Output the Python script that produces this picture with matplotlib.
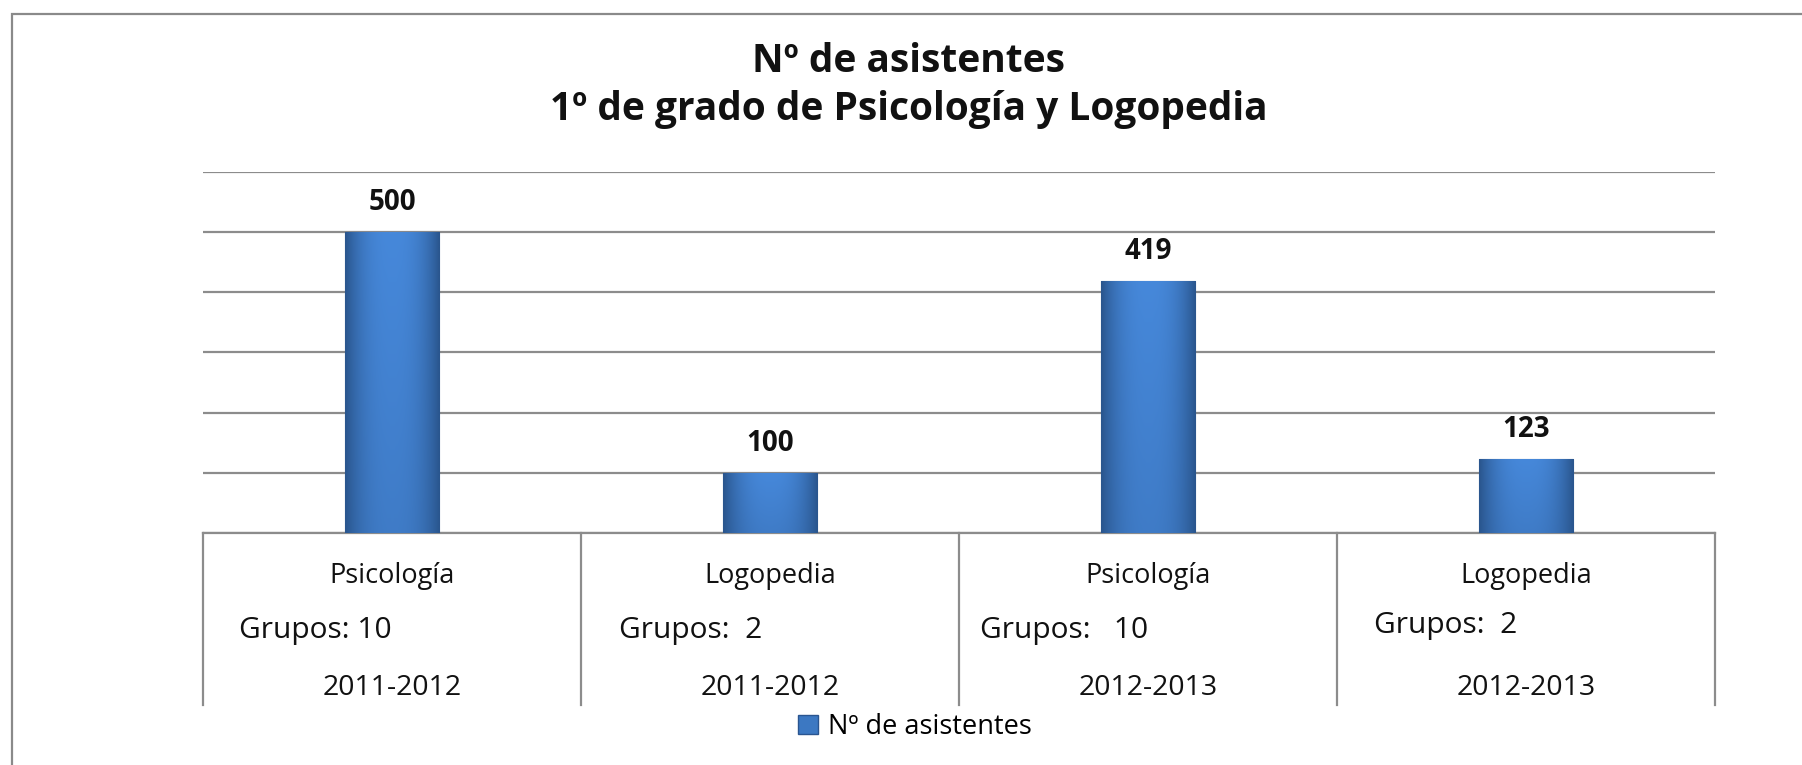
import matplotlib.pyplot as plt
import matplotlib.patches as mpatches
import matplotlib.transforms as mtransforms
from matplotlib.colors import LinearSegmentedColormap
import numpy as np

plt.rcParams['font.family'] = ['Open Sans', 'DejaVu Sans']

# Data
carreras = ['Psicología', 'Logopedia', 'Psicología', 'Logopedia']
grupos = ['Grupos: 10', 'Grupos:  2', 'Grupos:   10', 'Grupos:  2']
cursos = ['2011-2012', '2011-2012', '2012-2013', '2012-2013']
asistentes = [500, 100, 419, 123]
serie = 'Nº de asistentes'

fig = plt.figure(figsize=(18.02, 7.65), dpi=100)
ax = fig.add_axes([0.1127, 0.3033, 0.839, 0.4719])

x = np.arange(len(asistentes))
bars = ax.bar(x, asistentes, width=0.25, color='#3C78C2', edgecolor='#2A5590',
              linewidth=0.8, zorder=3)

# gradient inside each bar: darker at the sides and towards the bottom
h = np.linspace(-1, 1, 64)
h = 1 - np.abs(h) ** 2.5
v = np.linspace(0.75, 1.0, 64)[:, None]
grad = h[None, :] * v
cmap = LinearSegmentedColormap.from_list('b', ['#2A568E', '#4688DA'])
for b in bars:
    im = ax.imshow(grad, cmap=cmap, vmin=0, vmax=1, aspect='auto', origin='lower',
                   zorder=3.5, interpolation='bilinear',
                   extent=[b.get_x(), b.get_x() + b.get_width(), 0, b.get_height()])
    im.set_clip_path(b)

for xi, v_ in zip(x, asistentes):
    ax.annotate(str(v_), (xi, v_), xytext=(0, 16), textcoords='offset points',
                ha='center', va='baseline', fontsize=20, fontweight='bold',
                color='#111111')

ax.set_xlim(-0.5, len(asistentes) - 0.5)
ax.set_ylim(0, 600)
ax.set_yticks(np.arange(0, 601, 100))
ax.yaxis.grid(True, color='#8C8C8C', linewidth=1.6, zorder=0)
ax.set_axisbelow(True)
ax.tick_params(left=False, bottom=False, labelleft=False, labelbottom=False)
for s in ['top', 'right', 'left']:
    ax.spines[s].set_visible(False)
ax.spines['bottom'].set_color('#8C8C8C')
ax.spines['bottom'].set_linewidth(1.6)

# table under the axis
trans = mtransforms.blended_transform_factory(ax.transData, ax.transAxes)
for xv in np.arange(-0.5, len(asistentes), 1.0):
    ax.plot([xv, xv], [0, -0.476], transform=trans, color='#8C8C8C',
            linewidth=1.6, clip_on=False)
grupo_dx = [0.095, 0.10, 0.056, 0.098]
grupo_dy = [-0.290, -0.290, -0.290, -0.277]
for i in range(len(asistentes)):
    ax.text(x[i], -0.1377, carreras[i], transform=trans, ha='center', va='baseline',
            fontsize=19.5, color='#111111')
    ax.text(x[i] - 0.5 + grupo_dx[i], grupo_dy[i], grupos[i], transform=trans,
            ha='left', va='baseline', fontsize=21.5, color='#111111')
    ax.text(x[i], -0.449, cursos[i], transform=trans, ha='center', va='baseline',
            fontsize=20.5, color='#111111')

# legend
ax.legend([mpatches.Patch(facecolor='#3C78C2', edgecolor='#2A5590')], [serie],
          loc='center', bbox_to_anchor=(0.471, -0.537), frameon=False,
          fontsize=19.5, handlelength=0.74, handleheight=0.74, handletextpad=0.37,
          borderaxespad=0, borderpad=0)

fig.text(0.5044, 1 - 72 / 765, 'Nº de asistentes', ha='center', va='baseline',
         fontsize=28, fontweight='bold', color='#111111')
fig.text(0.5044, 1 - 120 / 765, '1º de grado de Psicología y Logopedia', ha='center',
         va='baseline', fontsize=28, fontweight='bold', color='#111111')

# outer chart border
fig.add_artist(mpatches.Rectangle((0.0064, -0.1), 1.2, 0.1 + 0.9817,
                                  transform=fig.transFigure, fill=False,
                                  edgecolor='#8A8A8A', linewidth=1.6))

fig.savefig('out.png', dpi=100)
plt.close()
